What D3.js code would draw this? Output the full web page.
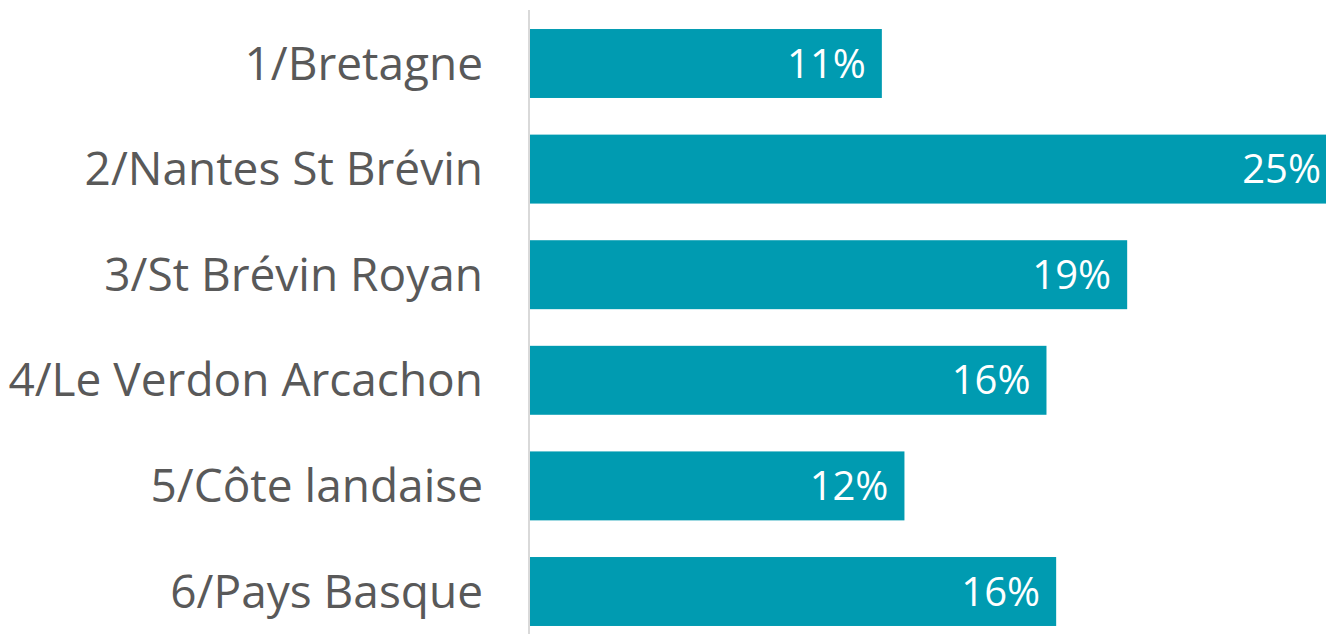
<!DOCTYPE html>
<html><head><meta charset="utf-8">
<script src="https://cdn.jsdelivr.net/npm/d3@7"></script>
<style>body{margin:0;background:#fff}svg{display:block}</style>
</head><body>
<svg id="chart" width="1326" height="634"></svg>
<script>
const categories = ["1/Bretagne","2/Nantes St Brévin","3/St Brévin Royan","4/Le Verdon Arcachon","5/Côte landaise","6/Pays Basque"];
const values = [10.9, 25.0, 18.5, 16.0, 11.6, 16.3];
const valueLabels = ["11%","25%","19%","16%","12%","16%"];

const W = 1326, H = 634;
const left = 530, right = 1337;
const svg = d3.select("#chart");
const x = d3.scaleLinear().domain([0, 25]).range([left, right]);
const y = d3.scaleBand().domain(categories).range([10.7, 644.3]).paddingInner(0.347).paddingOuter(0.1735);

svg.selectAll("rect.bar").data(categories).join("rect")
  .attr("class","bar")
  .attr("x", x(0))
  .attr("y", d => y(d))
  .attr("width", (d,i) => x(values[i]) - x(0))
  .attr("height", y.bandwidth())
  .attr("fill", "#009BB1");

svg.append("line").attr("x1", 529).attr("x2", 529).attr("y1", 10).attr("y2", H)
  .attr("stroke", "#d9d9d9").attr("stroke-width", 2);

const font = "'Open Sans', Lato, sans-serif";
svg.selectAll("text.cat").data(categories).join("text")
  .attr("class","cat")
  .attr("x", 483)
  .attr("y", d => y(d) + y.bandwidth()/2)
  .attr("dy", "0.35em")
  .attr("text-anchor", "end")
  .attr("font-family", font)
  .attr("font-size", 46)
  .attr("fill", "#595959")
  .text(d => d);

svg.selectAll("text.val").data(categories).join("text")
  .attr("class","val")
  .attr("x", (d,i) => x(values[i]) - 16)
  .attr("y", d => y(d) + y.bandwidth()/2)
  .attr("dy", "0.35em")
  .attr("text-anchor", "end")
  .attr("font-family", font)
  .attr("font-size", 40)
  .attr("fill", "#ffffff")
  .text((d,i) => valueLabels[i]);
</script>
</body></html>
